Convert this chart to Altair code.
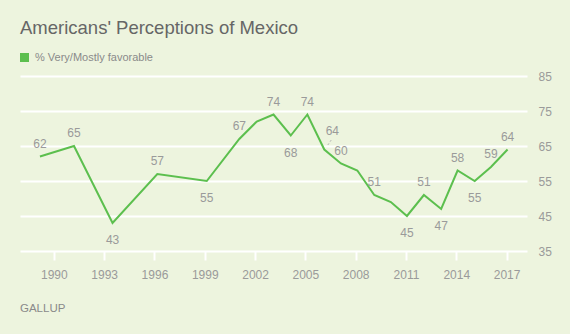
import altair as alt
import pandas as pd

# Data (survey year, % very/mostly favorable)
years = [1989.17, 1991.2, 1993.5, 1996.17, 1999.12, 2001.06, 2002.1, 2003.1,
         2004.13, 2005.12, 2006.13, 2007.12, 2008.1, 2009.11, 2010.1, 2011.06,
         2012.07, 2013.1, 2014.08, 2015.1, 2016.07, 2017.06]
values = [62, 65, 43, 57, 55, 67, 72, 74, 68, 74, 64, 60, 58, 51, 49, 45,
          51, 47, 58, 55, 59, 64]
# where each point's value label sits
label_side = ["up", "up", "down", "up", "down", "up", "", "up", "down", "up",
              "leader", "up", "", "up", "", "down", "up", "down", "up", "down",
              "up", "up"]

x_ticks = [1990, 1993, 1996, 1999, 2002, 2005, 2008, 2011, 2014, 2017]
y_ticks = [35, 45, 55, 65, 75, 85]

title_text = "Americans' Perceptions of Mexico"
legend_text = "% Very/Mostly favorable"
source_text = "GALLUP"

GREEN = "#5cbf4e"
BG = "#edf4de"
GREY = "#9a9a9a"
FONT = "Liberation Sans"

df = pd.DataFrame({"year": years, "value": values, "side": label_side})

xs = alt.Scale(domain=[1987.98, 2018.22], nice=False, zero=False)
ys = alt.Scale(domain=[35, 85], nice=False, zero=False)

x_enc = alt.X("year:Q", scale=xs, axis=alt.Axis(
    values=x_ticks, format="d", title=None, grid=False, domain=False,
    ticks=True, tickColor="white", tickWidth=2, tickSize=9,
    labelColor=GREY, labelFontSize=12, labelFont=FONT, labelPadding=9))
y_enc = alt.Y("value:Q", scale=ys, axis=alt.Axis(
    values=y_ticks, orient="right", title=None, grid=True, gridColor="white",
    gridWidth=2, domain=False, ticks=False, labelColor=GREY,
    labelFontSize=12, labelFont=FONT, labelPadding=11, labelOverlap=False))

base = alt.Chart(df)

line = base.mark_line(color=GREEN, strokeWidth=2).encode(x=x_enc, y=y_enc)

up = base.transform_filter(alt.datum.side == "up").mark_text(
    dy=-13, fontSize=12, font=FONT, color=GREY, baseline="middle"
).encode(x=x_enc, y=y_enc, text="value:Q")

down = base.transform_filter(alt.datum.side == "down").mark_text(
    dy=17, fontSize=12, font=FONT, color=GREY, baseline="middle"
).encode(x=x_enc, y=y_enc, text="value:Q")

lead_txt = base.transform_filter(alt.datum.side == "leader").mark_text(
    dx=8, dy=-19, fontSize=12, font=FONT, color=GREY, baseline="middle"
).encode(x=x_enc, y=y_enc, text="value:Q")

lead_rule = base.transform_filter(alt.datum.side == "leader").mark_rule(
    color="#b5b5b5", strokeWidth=1, strokeDash=[2, 2],
    xOffset=3.5, yOffset=-4.5, x2Offset=8, y2Offset=-11
).encode(x=x_enc, y=y_enc, x2="year:Q", y2="value:Q")

title = alt.Chart(pd.DataFrame({"t": [title_text]})).mark_text(
    align="left", baseline="alphabetic", fontSize=18.5, font=FONT, color="#666666"
).encode(x=alt.value(0), y=alt.value(-42), text="t:N")

legend_sq = alt.Chart(pd.DataFrame({"t": [legend_text]})).mark_square(
    size=81, color=GREEN, opacity=1, filled=True
).encode(x=alt.value(4.5), y=alt.value(-18.5))

legend_txt = alt.Chart(pd.DataFrame({"t": [legend_text]})).mark_text(
    align="left", baseline="middle", fontSize=11, font=FONT, color="#8a8a8a"
).encode(x=alt.value(15), y=alt.value(-18.5), text="t:N")

source = alt.Chart(pd.DataFrame({"t": [source_text]})).mark_text(
    align="left", baseline="middle", fontSize=11.5, font=FONT, color="#8a8a8a"
).encode(x=alt.value(0), y=alt.value(233), text="t:N")

chart = alt.layer(
    line, lead_rule, up, down, lead_txt, title, legend_sq, legend_txt, source
).properties(
    width=507, height=175,
    background=BG,
    padding={"left": 20, "top": 76, "right": 43, "bottom": 83},
    autosize=alt.AutoSizeParams(type="none"),
).configure_view(stroke=None)

chart.save("out.html", embed_options={"renderer": "svg", "actions": False})
